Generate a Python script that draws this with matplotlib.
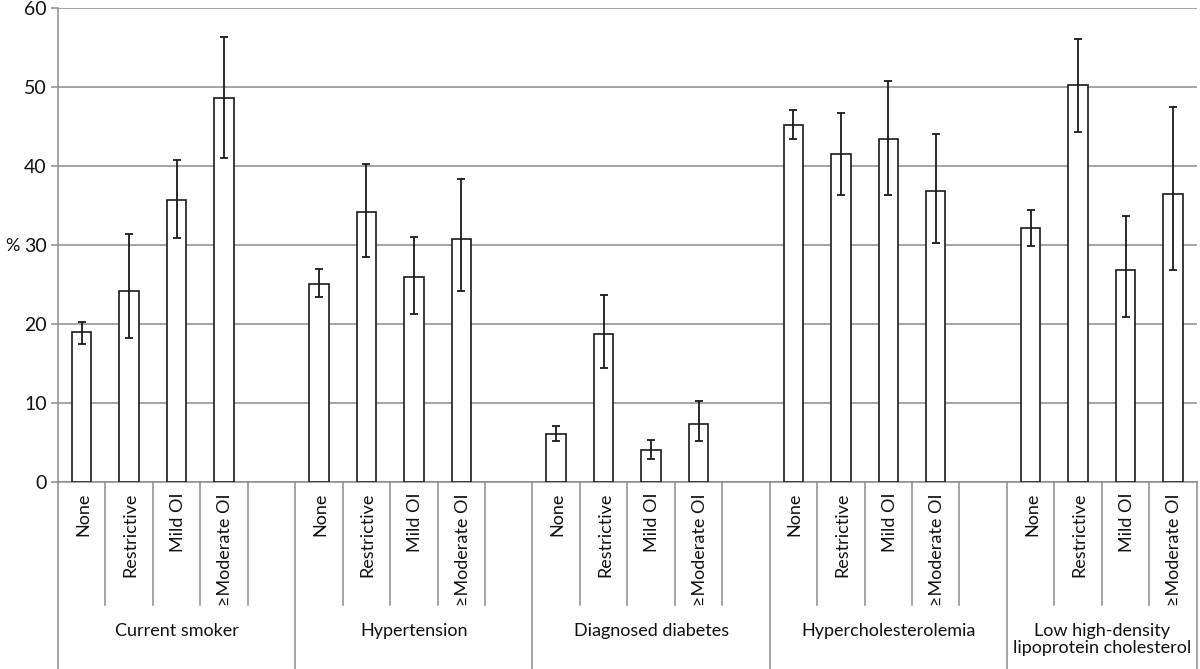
import matplotlib
matplotlib.use('Agg')
import matplotlib.pyplot as plt
import matplotlib.transforms as mtransforms
import numpy as np

# ---- data ----
groups = ['Current smoker', 'Hypertension', 'Diagnosed diabetes',
          'Hypercholesterolemia', 'Low high-density\nlipoprotein cholesterol']
levels = ['None', 'Restrictive', 'Mild OI', '\u2265Moderate OI']

current_smoker = [18.9, 24.2, 35.7, 48.6]
hypertension = [25.1, 34.1, 25.9, 30.8]
diagnosed_diabetes = [6.1, 18.7, 4.0, 7.3]
hypercholesterolemia = [45.2, 41.5, 43.4, 36.8]
low_hdl = [32.1, 50.2, 26.8, 36.4]

ci_low = [[17.5, 18.2, 30.9, 41.0],
          [23.4, 28.4, 21.2, 24.2],
          [5.2, 14.4, 2.9, 5.1],
          [43.4, 36.3, 36.3, 30.2],
          [29.9, 44.3, 20.8, 26.8]]
ci_high = [[20.2, 31.4, 40.8, 56.3],
           [27.0, 40.3, 31.0, 38.3],
           [7.1, 23.7, 5.3, 10.2],
           [47.1, 46.7, 50.8, 44.0],
           [34.4, 56.1, 33.7, 47.4]]

values = [current_smoker, hypertension, diagnosed_diabetes, hypercholesterolemia, low_hdl]
yticks = [0, 10, 20, 30, 40, 50, 60]

# ---- style ----
FONT = 'Lato'
plt.rcParams['font.family'] = [FONT, 'DejaVu Sans']
TXT = '#111111'
GRID = '#8c8c8c'
EDGE = '#1a1a1a'
FS = 13

fig = plt.figure(figsize=(12, 6.69), dpi=100)
W, H = 1200, 669
ax_left, ax_right, ax_top, ax_bot = 58, 1196.7, 8, 481.7
ax = fig.add_axes([ax_left / W, 1 - ax_bot / H, (ax_right - ax_left) / W, (ax_bot - ax_top) / H])

n_slots = 24
for g, vals in enumerate(values):
    xs = np.array([g * 5 + j for j in range(len(vals))])
    v = np.array(vals)
    lo = np.array(ci_low[g])
    hi = np.array(ci_high[g])
    ax.bar(xs, v, width=0.41, color='white', edgecolor=EDGE, linewidth=1.2, zorder=3)
    ax.errorbar(xs, v, yerr=[v - lo, hi - v], fmt='none', ecolor=EDGE,
                elinewidth=1.3, capsize=3.2, capthick=1.3, zorder=4)

ax.set_xlim(-0.5, n_slots - 0.5)
ax.set_ylim(0, 60)
ax.set_yticks(yticks)
ax.set_xticks([])
ax.yaxis.grid(True, color=GRID, linewidth=1.1)
ax.set_axisbelow(True)
for s in ['top', 'right']:
    ax.spines[s].set_visible(False)
for s in ['left', 'bottom']:
    ax.spines[s].set_color(GRID)
    ax.spines[s].set_linewidth(1.1)
ax.tick_params(axis='y', length=5, width=1.1, color=GRID, labelsize=FS + 1, labelcolor=TXT, pad=3)

trans = mtransforms.blended_transform_factory(ax.transData, ax.transAxes)
def ay(px):
    return (ax_bot - px) / (ax_bot - ax_top)

# separators
group_bounds = [-0.5, 4.5, 9.5, 14.5, 19.5, 23.5]
for b in np.arange(-0.5, n_slots, 1.0):
    if any(abs(b - gb) < 1e-6 for gb in group_bounds):
        y1 = ay(669)
    else:
        y1 = ay(605)
    ax.plot([b, b], [0, y1], transform=trans, color=GRID, lw=1.1, clip_on=False, zorder=1)

# sub-labels
for g, vals in enumerate(values):
    for j in range(len(vals)):
        ax.text(g * 5 + j + 0.03, ay(493), levels[j], transform=trans, rotation=90,
                ha='center', va='top', fontsize=FS, color=TXT)

# group labels
for g, name in enumerate(groups):
    start = group_bounds[g]
    end = group_bounds[g + 1]
    ax.text((start + end) / 2, ay(623), name, transform=trans, ha='center', va='top',
            fontsize=FS, color=TXT, linespacing=1.1)

fig.text(12 / W, 1 - 246 / H, '%', ha='center', va='center', fontsize=FS, color=TXT)

fig.savefig('out.png', dpi=100)
